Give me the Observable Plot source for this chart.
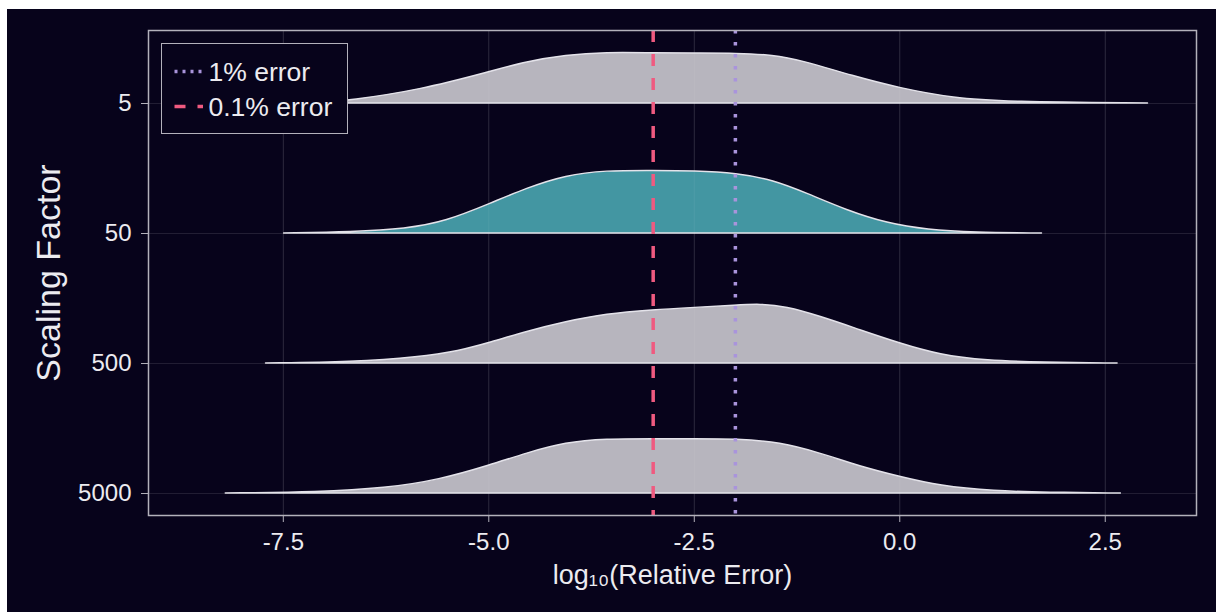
<!DOCTYPE html>
<html>
<head>
<meta charset="utf-8">
<script src="https://cdn.jsdelivr.net/npm/d3@7"></script>
<script src="https://cdn.jsdelivr.net/npm/@observablehq/plot@0.6"></script>
<style>
  html, body { margin: 0; padding: 0; background: #ffffff; }
  #chart { position: absolute; left: 7px; top: 9px; width: 1209px; height: 603px; background: #07031b; overflow: hidden; }
  #legend { position: absolute; left: 154px; top: 34px; width: 187px; height: 91px; box-sizing: border-box;
            border: 1.5px solid #b3b1bb; background: #07031b; }
  #legend svg { position: absolute; left: 0; top: 0; }
  #ylabel { position: absolute; left: 41px; top: 263.5px; transform: translate(-50%, -50%) rotate(-90deg);
            white-space: nowrap; color: #ecebf0; font-family: 'Liberation Sans', Arial, Helvetica, sans-serif;
            font-size: 34px; line-height: 1; }
</style>
</head>
<body>
<div id="chart"></div>
<script>
// ---- data ----
const factors = ["5", "50", "500", "5000"];          // top to bottom
const factorPos = [4, 3, 2, 1];                       // row index on y axis
const xTicks = [-7.5, -5.0, -2.5, 0.0, 2.5];

const logErr5 = [-7.6, -7.0, -6.70, -5.84, -4.97, -4.54, -4.06, -3.57, -3.00, -2.49, -1.98, -1.53, -1.20, -0.56, 0.00, 0.66, 1.31, 3.02];
const dens5   = [0, 0.004, 0.010, 0.050, 0.122, 0.160, 0.185, 0.196, 0.193, 0.192, 0.192, 0.185, 0.165, 0.104, 0.058, 0.019, 0.005, 0];

const logErr50 = [-7.49, -6.65, -6.00, -5.52, -4.97, -4.54, -4.06, -3.57, -3.00, -2.49, -1.98, -1.53, -1.13, -0.64, -0.15, 0.34, 0.91, 1.73];
const dens50   = [0, 0.005, 0.017, 0.045, 0.115, 0.173, 0.223, 0.241, 0.241, 0.240, 0.231, 0.204, 0.154, 0.088, 0.038, 0.013, 0.003, 0];

const logErr500 = [-7.71, -6.65, -5.84, -5.36, -4.97, -4.54, -4.06, -3.57, -3.00, -2.49, -1.98, -1.70, -1.38, -0.96, -0.48, 0.00, 0.49, 1.06, 1.72, 2.65];
const dens500   = [0, 0.004, 0.023, 0.047, 0.080, 0.122, 0.160, 0.190, 0.205, 0.214, 0.223, 0.228, 0.218, 0.180, 0.128, 0.077, 0.032, 0.010, 0.003, 0];

const logErr5000 = [-8.20, -7.06, -6.25, -5.60, -4.97, -4.54, -4.06, -3.57, -3.00, -2.49, -1.98, -1.45, -0.96, -0.48, 0.00, 0.49, 1.15, 1.80, 2.69];
const dens5000   = [0, 0.004, 0.019, 0.051, 0.109, 0.154, 0.196, 0.209, 0.209, 0.209, 0.209, 0.196, 0.154, 0.103, 0.064, 0.028, 0.008, 0.003, 0];

const thresholds = [-2, -3];                          // log10(0.01), log10(0.001)
const thresholdLabels = ["1% error", "0.1% error"];
const xLabel = "log\u2081\u2080(Relative Error)";
const yLabel = "Scaling Factor";

// ---- styling ----
const GREY = "#b7b5be";
const TEAL = "#4396a2";
const OUTLINE = "#e4e3ea";
const PURPLE = "#a994dc";
const RED = "#ef5a80";
const TEXT = "#ecebf0";
const FRAME = "#b3b1bb";
const FONT = "'Liberation Sans', Arial, Helvetica, sans-serif";
const SCALE = 2; // density -> row units

const series = [
  {factor: "5", x: logErr5, d: dens5},
  {factor: "50", x: logErr50, d: dens50},
  {factor: "500", x: logErr500, d: dens500},
  {factor: "5000", x: logErr5000, d: dens5000}
];
const rows = series.map(s => {
  const base = factorPos[factors.indexOf(s.factor)];
  return {factor: s.factor, pts: s.x.map((x, i) => ({x, base, top: base + s.d[i] * SCALE}))};
});

const areaMarks = rows.map(r => Plot.areaY(r.pts, {
  x: "x", y1: "base", y2: "top", curve: "basis",
  fill: r.factor === "50" ? TEAL : GREY,
  stroke: OUTLINE, strokeWidth: 1.5, strokeLinejoin: "round"
}));

const plot = Plot.plot({
  width: 1209,
  height: 603,
  marginLeft: 141,
  marginRight: 20,
  marginTop: 21,
  marginBottom: 97,
  style: {background: "transparent", fontFamily: FONT, fontSize: "24px", color: TEXT},
  x: {domain: [-9.14, 3.61]},
  y: {domain: [0.831, 4.5615]},
  marks: [
    Plot.gridX({ticks: xTicks, stroke: "#ffffff", strokeOpacity: 0.11, strokeWidth: 1}),
    Plot.gridY({ticks: factorPos, stroke: "#ffffff", strokeOpacity: 0.11, strokeWidth: 1}),
    ...areaMarks,
    Plot.gridX({ticks: xTicks, stroke: "#ffffff", strokeOpacity: 0.06, strokeWidth: 1}),
    Plot.ruleX([thresholds[0]], {stroke: PURPLE, strokeWidth: 3.5, strokeDasharray: "3.5,8.5"}),
    Plot.ruleX([thresholds[1]], {stroke: RED, strokeWidth: 3.5, strokeDasharray: "12,12"}),
    Plot.frame({stroke: FRAME, strokeWidth: 1.5}),
    Plot.axisX({ticks: xTicks, tickSize: 7, tickFormat: () => "", stroke: FRAME, label: null}),
    Plot.axisX({ticks: xTicks, tickSize: 0, tickPadding: 17, tickFormat: d => d.toFixed(1), fill: TEXT, label: null}),
    Plot.axisY({ticks: factorPos, tickSize: 7, tickFormat: () => "", stroke: FRAME, label: null}),
    Plot.axisY({ticks: factorPos, tickSize: 0, tickPadding: 17, tickFormat: d => factors[factorPos.indexOf(d)], fill: TEXT, label: null}),
    Plot.text([xLabel], {frameAnchor: "bottom", dy: 68, fontSize: 27, fill: TEXT})
  ]
});

const chart = document.getElementById("chart");
chart.appendChild(plot);

// y axis title
const yl = document.createElement("div");
yl.id = "ylabel";
yl.textContent = yLabel;
chart.appendChild(yl);

// legend (real text)
const legend = document.createElement("div");
legend.id = "legend";
const ns = "http://www.w3.org/2000/svg";
const lsvg = document.createElementNS(ns, "svg");
lsvg.setAttribute("width", 187);
lsvg.setAttribute("height", 91);
const entries = [
  {label: thresholdLabels[0], color: PURPLE, dash: "3,5", w: 3.5, cy: 27.5},
  {label: thresholdLabels[1], color: RED, dash: "11,12", w: 3.5, cy: 62.5}
];
entries.forEach(e => {
  const ln = document.createElementNS(ns, "line");
  ln.setAttribute("x1", 12.5); ln.setAttribute("x2", 41);
  ln.setAttribute("y1", e.cy); ln.setAttribute("y2", e.cy);
  ln.setAttribute("stroke", e.color);
  ln.setAttribute("stroke-width", e.w);
  ln.setAttribute("stroke-dasharray", e.dash);
  lsvg.appendChild(ln);
  const t = document.createElementNS(ns, "text");
  t.setAttribute("x", 46.5);
  t.setAttribute("y", e.cy);
  t.setAttribute("dy", "0.35em");
  t.setAttribute("fill", TEXT);
  t.setAttribute("font-family", FONT);
  t.setAttribute("font-size", 26.5);
  t.textContent = e.label;
  lsvg.appendChild(t);
});
legend.appendChild(lsvg);
chart.appendChild(legend);
</script>
</body>
</html>
